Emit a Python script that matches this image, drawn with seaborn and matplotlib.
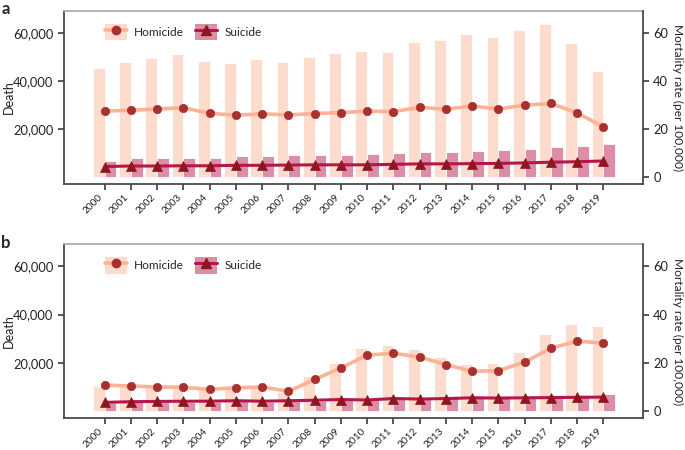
import numpy as np
import pandas as pd
import matplotlib
matplotlib.use("Agg")
import matplotlib.pyplot as plt
import seaborn as sns
from matplotlib.patches import Patch
from matplotlib.lines import Line2D
from matplotlib.legend_handler import HandlerTuple
from matplotlib.ticker import FuncFormatter

years = list(range(2000, 2020))

# panel a
hom_deaths_a = [45300, 47900, 49700, 51100, 48300, 47600, 49000, 47800, 50000, 51500,
                52400, 52200, 56400, 57000, 59700, 58200, 61100, 63600, 55800, 44000]
sui_deaths_a = [6700, 7800, 7700, 7800, 8000, 8600, 8600, 8900, 9300, 9300,
                9400, 9900, 10300, 10400, 10700, 11100, 11400, 12500, 12800, 13600]
hom_rate_a = [27.4, 27.8, 28.3, 28.8, 26.5, 25.7, 26.3, 25.8, 26.4, 26.8,
              27.4, 27.2, 29.0, 28.2, 29.5, 28.3, 29.9, 30.6, 26.7, 20.8]
sui_rate_a = [4.3, 4.5, 4.5, 4.6, 4.6, 4.8, 4.8, 4.9, 5.0, 5.0,
              5.0, 5.2, 5.4, 5.4, 5.5, 5.6, 5.8, 6.1, 6.3, 6.6]

# panel b
hom_deaths_b = [10500, 10200, 9800, 9700, 9000, 9400, 9700, 8000, 14400, 19900,
                26100, 27400, 25800, 22500, 19400, 20100, 24400, 31900, 36000, 35300]
sui_deaths_b = [3400, 3700, 3700, 3800, 3800, 4000, 3800, 4000, 4200, 4600,
                4600, 5000, 5000, 5300, 6300, 6300, 6000, 6300, 6700, 7200]
hom_rate_b = [10.8, 10.4, 10.0, 9.9, 9.0, 9.7, 10.0, 8.2, 13.1, 17.9,
              23.2, 24.0, 22.4, 19.3, 16.5, 16.8, 20.3, 26.1, 29.0, 28.2]
sui_rate_b = [3.6, 3.9, 4.0, 4.1, 4.1, 4.3, 4.1, 4.3, 4.5, 4.8,
              4.6, 5.2, 5.0, 5.2, 5.5, 5.4, 5.5, 5.6, 5.7, 5.8]

causes = ["Homicide", "Suicide"]

sns.set_theme(style="white")
plt.rcParams['font.family'] = ['Lato', 'DejaVu Sans']

hom_bar = "#fddbcd"
sui_bar = "#dc8ea6"
hom_line = "#fdb195"
hom_mark = "#a8302f"
sui_line = "#b5164b"
sui_mark = "#8e1620"
dark = "#444444"

fig = plt.figure(figsize=(6.85, 4.5), dpi=100)
ax_a = fig.add_axes([0.0934, 0.5911, 0.845, 0.3851])
ax_b = fig.add_axes([0.0934, 0.0704, 0.845, 0.3874])


def draw(ax, hd, sd, hr, sr):
    df = pd.DataFrame({
        "year": [str(y) for y in years] * 2,
        "deaths": hd + sd,
        "cause": [causes[0]] * len(years) + [causes[1]] * len(years),
    })
    sns.barplot(data=df, x="year", y="deaths", hue="cause",
                palette=[hom_bar, sui_bar], width=0.9, dodge=True,
                saturation=1, edgecolor="white", linewidth=0.6,
                legend=False, ax=ax)
    ax.set_ylim(-3000, 69300)
    ax.set_xlim(-1.55, 20.5)
    ax.set_yticks([20000, 40000, 60000])
    ax.yaxis.set_major_formatter(FuncFormatter(lambda v, p: f"{int(v):,}"))
    ax.set_xlabel("")
    ax.set_ylabel("Death", fontsize=9, color="#222222")
    ax.yaxis.set_label_coords(-0.084, 0.5)
    ax.tick_params(axis="x", bottom=True, length=4, pad=2, color=dark,
                   labelsize=7.3, labelcolor="#222222")
    plt.setp(ax.get_xticklabels(), rotation=45, ha="right")
    ax.tick_params(axis="y", left=True, length=4, color=dark, labelsize=9.3,
                   labelcolor="#222222")
    for s in ["left", "bottom"]:
        ax.spines[s].set_color(dark)
    ax.spines["top"].set_color("#aaaaaa")
    ax.spines["right"].set_visible(False)

    ax2 = ax.twinx()
    pos = np.arange(len(years))
    sns.lineplot(x=pos, y=hr, ax=ax2, color=hom_line, linewidth=2.6,
                 marker="o", markersize=6, markerfacecolor=hom_mark,
                 markeredgecolor=hom_mark, markeredgewidth=0.5)
    sns.lineplot(x=pos, y=sr, ax=ax2, color=sui_line, linewidth=2.2,
                 marker="^", markersize=7, markerfacecolor=sui_mark,
                 markeredgecolor=sui_mark, markeredgewidth=0.5)
    ax2.set_ylim(-3, 69.3)
    ax2.set_yticks([0, 20, 40, 60])
    ax2.set_ylabel("Mortality rate (per 100,000)", rotation=270, va="bottom",
                   fontsize=8.6, color="#222222")
    ax2.yaxis.set_label_coords(1.05, 0.5)
    ax2.tick_params(axis="y", right=True, length=4, color=dark, labelsize=9.3,
                    labelcolor="#222222")
    ax2.spines["right"].set_color(dark)
    ax2.spines["top"].set_visible(False)
    ax2.spines["left"].set_visible(False)
    ax2.spines["bottom"].set_visible(False)

    h1 = (Patch(facecolor=hom_bar, edgecolor="none"),
          Line2D([], [], color=hom_line, linewidth=2.6, marker="o",
                 markersize=6, markerfacecolor=hom_mark, markeredgecolor=hom_mark))
    h2 = (Patch(facecolor=sui_bar, edgecolor="none"),
          Line2D([], [], color=sui_line, linewidth=2.2, marker="^",
                 markersize=7, markerfacecolor=sui_mark, markeredgecolor=sui_mark))
    ax2.legend(handles=[h1, h2], labels=causes,
               handler_map={tuple: HandlerTuple(ndivide=1, pad=0)},
               ncol=2, frameon=False, loc="upper left",
               bbox_to_anchor=(0.071, 0.925), borderaxespad=0, borderpad=0,
               handlelength=1.85, handleheight=1.75, handletextpad=0.6,
               columnspacing=0.9, fontsize=8.6)


draw(ax_a, hom_deaths_a, sui_deaths_a, hom_rate_a, sui_rate_a)
draw(ax_b, hom_deaths_b, sui_deaths_b, hom_rate_b, sui_rate_b)

fig.text(0.002, 0.998, "a", fontsize=12, fontweight="bold", va="top")
fig.text(0.002, 0.478, "b", fontsize=12, fontweight="bold", va="top")

fig.savefig("out.png", dpi=100)
